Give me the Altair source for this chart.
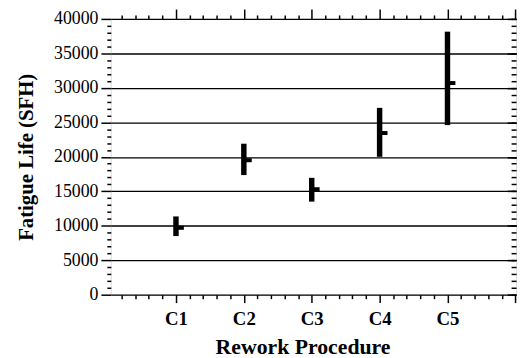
import altair as alt
import pandas as pd

procedures = ["C1", "C2", "C3", "C4", "C5"]
position = [1, 2, 3, 4, 5]
low = [8500, 17350, 13500, 20000, 24600]
high = [11350, 21900, 16950, 27100, 38150]
mid = [9700, 19500, 15300, 23450, 30700]

x_ticks = [round(0.2 * i, 1) for i in range(1, 31)]
y_ticks = list(range(0, 40001, 1000))
y_major = list(range(0, 40001, 5000))

df = pd.DataFrame({"proc": procedures, "pos": position, "low": low, "high": high, "mid": mid})

FONT = "Liberation Serif"
xscale = alt.Scale(domain=[0.04, 6.01], nice=False, zero=False)
yscale = alt.Scale(domain=[0, 40000], nice=False, zero=False)

is_int = "datum.value % 1 === 0"
is_major_y = "datum.value % 5000 === 0"

bars = alt.Chart(df).mark_rule(strokeWidth=5.5, color="black").encode(
    x=alt.X("pos:Q", scale=xscale, axis=alt.Axis(
        orient="bottom", values=x_ticks, grid=False, domain=False,
        tickSize={"condition": {"test": is_int, "value": 8}, "value": 4},
        tickColor="black", tickWidth=1.5,
        labelExpr="datum.value % 1 === 0 && datum.value < 6 ? 'C' + datum.value : ''",
        labelFont=FONT, labelFontSize=19, labelFontWeight="bold", labelColor="black",
        labelPadding=7, labelOverlap=False, labelFlush=False,
        title="Rework Procedure", titleFont=FONT, titleFontSize=22, titleFontWeight="bold",
        titleColor="black", titlePadding=8, titleX=194, titleAlign="center")),
    y=alt.Y("low:Q", scale=yscale, axis=alt.Axis(
        orient="left", values=y_ticks, domain=False,
        grid=True, gridColor="black", gridWidth=1.3,
        gridOpacity={"condition": {"test": is_major_y, "value": 1}, "value": 0},
        tickSize={"condition": {"test": is_major_y, "value": 10}, "value": 4},
        tickColor="black", tickWidth=1.5,
        labelExpr="datum.value % 5000 === 0 ? '' + datum.value : ''",
        labelFont=FONT,
        labelFontSize=18,
        labelFontWeight="normal",
        labelColor="black",
        labelPadding=3, labelOverlap=False, labelFlush=False,
        title="Fatigue Life (SFH)", titleFont=FONT, titleFontSize=21, titleFontWeight="bold",
        titleColor="black", titlePadding=17)),
    y2="high:Q",
)

ticks = alt.Chart(df).mark_tick(orient="horizontal", size=8, thickness=4, xOffset=4,
                                color="black", opacity=1).encode(
    x=alt.X("pos:Q", scale=xscale, axis=alt.Axis(
        orient="top", values=x_ticks, grid=False, domain=False, labels=False, title=None,
        tickSize={"condition": {"test": is_int, "value": 10}, "value": 4},
        tickColor="black", tickWidth=1.5)),
    y=alt.Y("mid:Q", scale=yscale, axis=alt.Axis(
        orient="right", values=y_major, grid=False, domain=False, labels=False, title=None,
        offset=-9, tickSize=9, tickColor="black", tickWidth=1.5)),
)

minor_right = alt.Chart(df).mark_point(opacity=0).encode(
    x=alt.X("pos:Q", scale=xscale, axis=None),
    y=alt.Y("mid:Q", scale=yscale, axis=alt.Axis(
        orient="right", values=y_ticks, grid=False, domain=False, labels=False, title=None,
        offset=-5, tickSize=5, tickColor="black", tickWidth=1.5)),
)

chart = alt.layer(bars, ticks, minor_right).resolve_axis(
    x="independent", y="independent"
).properties(
    width=410, height=279,
    padding={"left": 104, "top": 9, "right": 4, "bottom": 62},
    autosize=alt.AutoSizeParams(type="none"),
).configure_view(stroke="black", strokeWidth=2).configure(
    background="white", font="Liberation Serif"
).configure_axis(
    labelFont=FONT, labelColor="black"
).configure_axisLeft(
    labelFont=FONT, labelFontSize=18, labelColor="black"
)

chart.save("out.html", embed_options={"renderer": "svg", "actions": False})
